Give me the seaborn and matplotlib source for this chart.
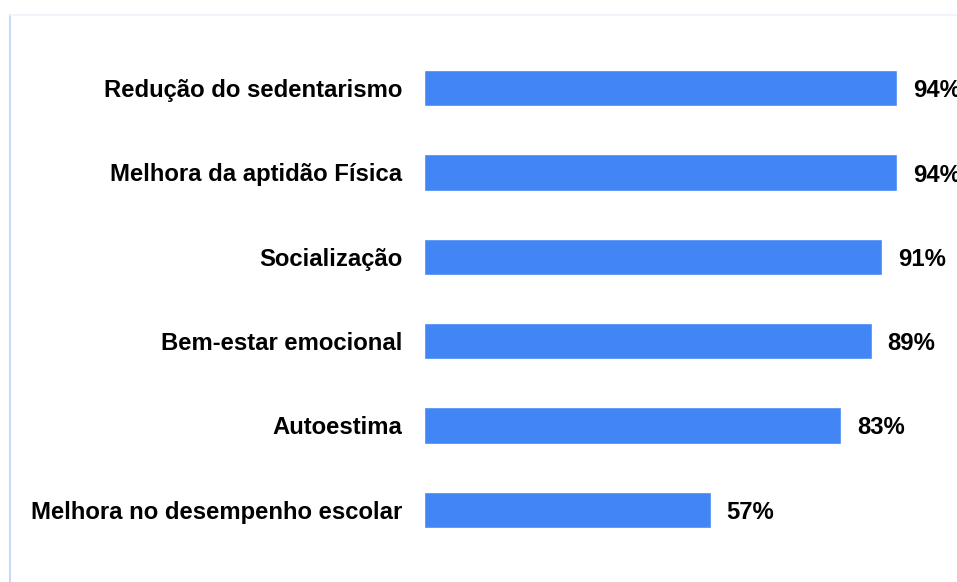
import matplotlib
matplotlib.use("Agg")
import matplotlib.pyplot as plt
from matplotlib.lines import Line2D
import seaborn as sns
import pandas as pd

categories = [
    "Redução do sedentarismo",
    "Melhora da aptidão Física",
    "Socialização",
    "Bem-estar emocional",
    "Autoestima",
    "Melhora no desempenho escolar",
]
values = [94, 94, 91, 89, 83, 57]
value_labels = ["94%", "94%", "91%", "89%", "83%", "57%"]

sns.set_theme(style="white")
plt.rcParams["font.family"] = ["Liberation Sans", "DejaVu Sans"]

df = pd.DataFrame({"categoria": categories, "valor": values})

fig = plt.figure(figsize=(9.57, 5.82), dpi=100)
W, H = 957, 582
left_px, bottom_px, top_px = 424, 552, 46
ax = fig.add_axes([left_px / W, 1 - bottom_px / H, 1 - left_px / W, (bottom_px - top_px) / H])

sns.barplot(data=df, x="valor", y="categoria", orient="h", color="#4285f4",
            width=0.427, saturation=1, ax=ax)

ax.set_xlim(0, (W - left_px) / 5.03)
ax.set_ylim(5.5, -0.5)
ax.set_xlabel("")
ax.set_ylabel("")
ax.set_xticks([])
for s in ax.spines.values():
    s.set_visible(False)
ax.tick_params(axis="y", length=0, pad=15.5)
for lab in ax.get_yticklabels():
    lab.set_fontweight("bold")
    lab.set_fontsize(17.2)
    lab.set_color("#000000")

for i, (v, t) in enumerate(zip(values, value_labels)):
    ax.annotate(t, xy=(v, i), xytext=(11.5, 0), textcoords="offset points",
                ha="left", va="center_baseline", fontsize=17.2, fontweight="bold",
                color="#000000", annotation_clip=False)

# faint frame around the chart area
fig.add_artist(Line2D([10 / W, 10 / W], [0, 1 - 15 / H], transform=fig.transFigure,
                      color="#c9d8f5", lw=1.5))
fig.add_artist(Line2D([10 / W, 1], [1 - 15 / H, 1 - 15 / H], transform=fig.transFigure,
                      color="#eef2fb", lw=1.2))

fig.savefig("out.png", dpi=100, facecolor="white")
